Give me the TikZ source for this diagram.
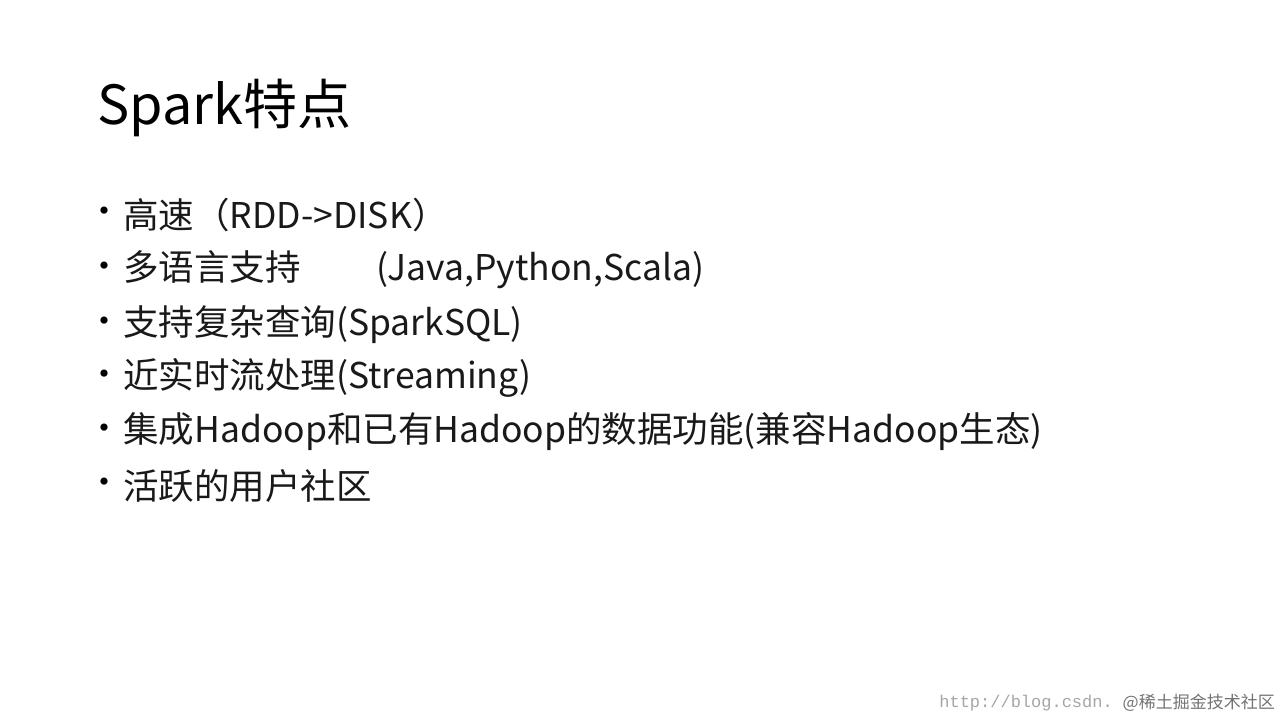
\documentclass[tikz,border=0pt]{standalone}
\usepackage{fontspec}
\setmainfont{Noto Sans CJK SC}
\newfontfamily\wmono{Liberation Mono}
\begin{document}
\begin{tikzpicture}[x=1pt,y=-1pt]
\useasboundingbox[fill=white] (0,0) rectangle (1280,720);
\tikzset{item/.style={anchor=west,inner sep=0,font=\fontsize{35.5}{36}\selectfont,text=black!90},
bul/.style={anchor=center,inner sep=0,font=\fontsize{34}{34}\selectfont}}
\node[anchor=west,inner sep=0,font=\fontsize{54}{54}\selectfont] (t) at (97,108) {Spark特点};
\foreach \y/\txt [count=\i] in {215/{高速（RDD->DISK）},270/{多语言支持\hspace{76pt}(Java,Python,Scala)},325/{支持复杂查询(SparkSQL)},378/{近实时流处理(Streaming)},432/{集成Hadoop和已有Hadoop的数据功能(兼容Hadoop生态)},486/{活跃的用户社区}}{
\node[bul] (b\i) at (104,\y) {•};
\node[item] (l\i) at (123,\y) {\txt};
}
\node[anchor=east,inner sep=0,font=\wmono\fontsize{17}{17}\selectfont,text=black!35] (w1) at (1113,703) {http://blog.csdn.};
\node[anchor=east,inner sep=0,font=\fontsize{17}{17}\selectfont,text=black!55] (w2) at (1275,703) {@稀土掘金技术社区};
\end{tikzpicture}
\end{document}
